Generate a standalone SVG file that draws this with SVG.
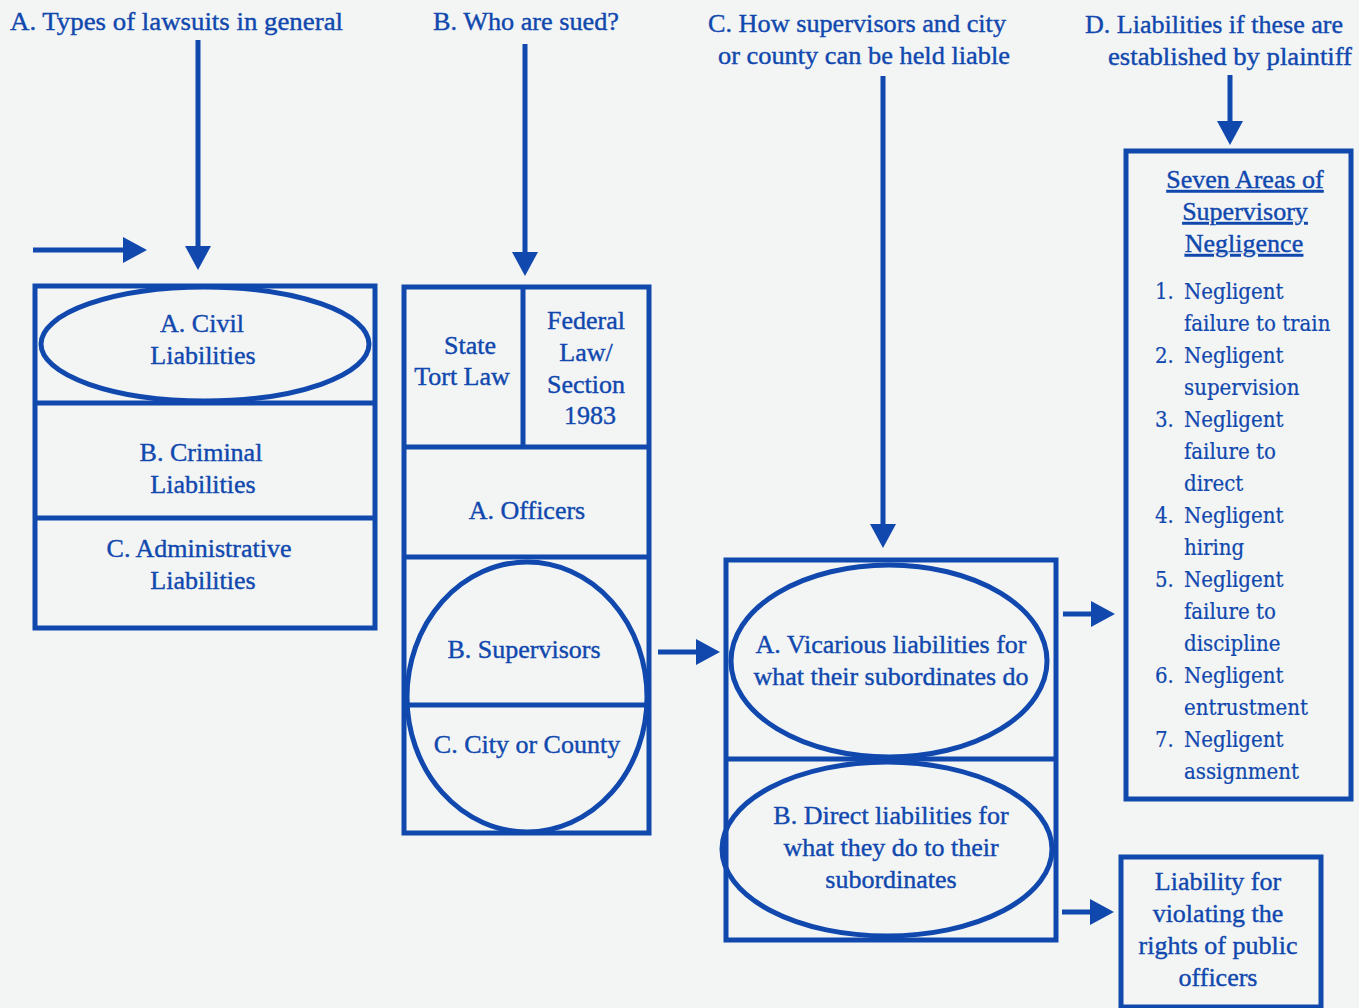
<svg xmlns="http://www.w3.org/2000/svg" width="1359" height="1008" viewBox="0 0 1359 1008">
<style>
  .bg{fill:#f3f5f5}
  .box{fill:none;stroke:#1048ae;stroke-width:5}
  .ln{stroke:#1048ae;stroke-width:5;fill:none}
  .arr{stroke:#1048ae;stroke-width:5;fill:none;marker-end:url(#ah)}
  text{font-family:"Liberation Serif","Times New Roman",serif;font-size:26px;fill:#1048ae;stroke:#1048ae;stroke-width:0.4}
  .c{text-anchor:middle}
  .u{text-decoration:underline}
  .l{font-family:"DejaVu Serif Condensed","DejaVu Serif",serif;font-stretch:condensed;font-size:22px;stroke-width:0.2}
</style>
<defs>
  <marker id="ah" markerUnits="userSpaceOnUse" markerWidth="26" markerHeight="28" refX="2" refY="13" orient="auto">
    <path d="M0,0 L24,13 L0,26 z" fill="#1048ae"/>
  </marker>
</defs>
<rect class="bg" x="0" y="0" width="1359" height="1008"/>

<g id="headings">
  <text x="10" y="30" textLength="333" lengthAdjust="spacingAndGlyphs">A. Types of lawsuits in general</text>
  <text x="433" y="30" textLength="186" lengthAdjust="spacingAndGlyphs">B. Who are sued?</text>
  <text x="708" y="32" textLength="298" lengthAdjust="spacingAndGlyphs">C. How supervisors and city</text>
  <text x="718" y="64" textLength="292" lengthAdjust="spacingAndGlyphs">or county can be held liable</text>
  <text x="1085" y="33" textLength="258" lengthAdjust="spacingAndGlyphs">D. Liabilities if these are</text>
  <text x="1108" y="65" textLength="244" lengthAdjust="spacingAndGlyphs">established by plaintiff</text>
</g>

<g id="connectors">
  <line class="arr" x1="198" y1="40" x2="198" y2="248"/>
  <line class="arr" x1="33" y1="250" x2="125" y2="250"/>
  <line class="arr" x1="525" y1="44" x2="525" y2="254"/>
  <line class="arr" x1="883" y1="76" x2="883" y2="526"/>
  <line class="arr" x1="1230" y1="75" x2="1230" y2="123"/>
  <line class="arr" x1="658" y1="652" x2="698" y2="652"/>
  <line class="arr" x1="1063" y1="614" x2="1093" y2="614"/>
  <line class="arr" x1="1062" y1="912" x2="1092" y2="912"/>
</g>

<g id="node-types">
  <rect class="box" x="35" y="286" width="340" height="342"/>
  <line class="ln" x1="35" y1="403" x2="375" y2="403"/>
  <line class="ln" x1="35" y1="518" x2="375" y2="518"/>
  <ellipse class="box" cx="205" cy="344" rx="164" ry="57"/>
  <text class="c" x="202" y="332">A. Civil</text>
  <text class="c" x="203" y="364">Liabilities</text>
  <text class="c" x="201" y="461">B. Criminal</text>
  <text class="c" x="203" y="493">Liabilities</text>
  <text class="c" x="199" y="557">C. Administrative</text>
  <text class="c" x="203" y="589">Liabilities</text>
</g>

<g id="node-sued">
  <rect class="box" x="404" y="287" width="245" height="546"/>
  <line class="ln" x1="523" y1="287" x2="523" y2="447"/>
  <line class="ln" x1="404" y1="447" x2="649" y2="447"/>
  <line class="ln" x1="404" y1="557" x2="649" y2="557"/>
  <line class="ln" x1="404" y1="705" x2="649" y2="705"/>
  <ellipse class="box" cx="527" cy="697" rx="120" ry="135"/>
  <text class="c" x="470" y="354">State</text>
  <text class="c" x="462" y="385">Tort Law</text>
  <text class="c" x="586" y="329">Federal</text>
  <text class="c" x="586" y="361">Law/</text>
  <text class="c" x="586" y="393">Section</text>
  <text class="c" x="590" y="424">1983</text>
  <text class="c" x="527" y="519">A. Officers</text>
  <text class="c" x="524" y="658">B. Supervisors</text>
  <text class="c" x="527" y="753">C. City or County</text>
</g>

<g id="node-liable">
  <rect class="box" x="726" y="560" width="330" height="380"/>
  <line class="ln" x1="726" y1="759" x2="1056" y2="759"/>
  <ellipse class="box" cx="889" cy="661" rx="158" ry="96"/>
  <ellipse class="box" cx="887" cy="849" rx="165" ry="87"/>
  <text class="c" x="891" y="653">A. Vicarious liabilities for</text>
  <text class="c" x="891" y="685">what their subordinates do</text>
  <text class="c" x="891" y="824">B. Direct liabilities for</text>
  <text class="c" x="891" y="856">what they do to their</text>
  <text class="c" x="891" y="888">subordinates</text>
</g>

<g id="node-seven-areas">
  <rect class="box" x="1126" y="151" width="225" height="648"/>
  <text class="c u" x="1245" y="188">Seven Areas of</text>
  <text class="c u" x="1245" y="220">Supervisory</text>
  <text class="c u" x="1244" y="252">Negligence</text>
  <g class="l">
  <text class="l" x="1155" y="299">1.</text><text class="l" x="1184" y="299">Negligent</text>
  <text class="l" x="1184" y="331">failure to train</text>
  <text class="l" x="1155" y="363">2.</text><text class="l" x="1184" y="363">Negligent</text>
  <text class="l" x="1184" y="395">supervision</text>
  <text class="l" x="1155" y="427">3.</text><text class="l" x="1184" y="427">Negligent</text>
  <text class="l" x="1184" y="459">failure to</text>
  <text class="l" x="1184" y="491">direct</text>
  <text class="l" x="1155" y="523">4.</text><text class="l" x="1184" y="523">Negligent</text>
  <text class="l" x="1184" y="555">hiring</text>
  <text class="l" x="1155" y="587">5.</text><text class="l" x="1184" y="587">Negligent</text>
  <text class="l" x="1184" y="619">failure to</text>
  <text class="l" x="1184" y="651">discipline</text>
  <text class="l" x="1155" y="683">6.</text><text class="l" x="1184" y="683">Negligent</text>
  <text class="l" x="1184" y="715">entrustment</text>
  <text class="l" x="1155" y="747">7.</text><text class="l" x="1184" y="747">Negligent</text>
  <text class="l" x="1184" y="779">assignment</text>
  </g>
</g>

<g id="node-public-officers">
  <rect class="box" x="1121" y="857" width="200" height="150"/>
  <text class="c" x="1218" y="890">Liability for</text>
  <text class="c" x="1218" y="922">violating the</text>
  <text class="c" x="1218" y="954">rights of public</text>
  <text class="c" x="1218" y="986">officers</text>
</g>
</svg>
